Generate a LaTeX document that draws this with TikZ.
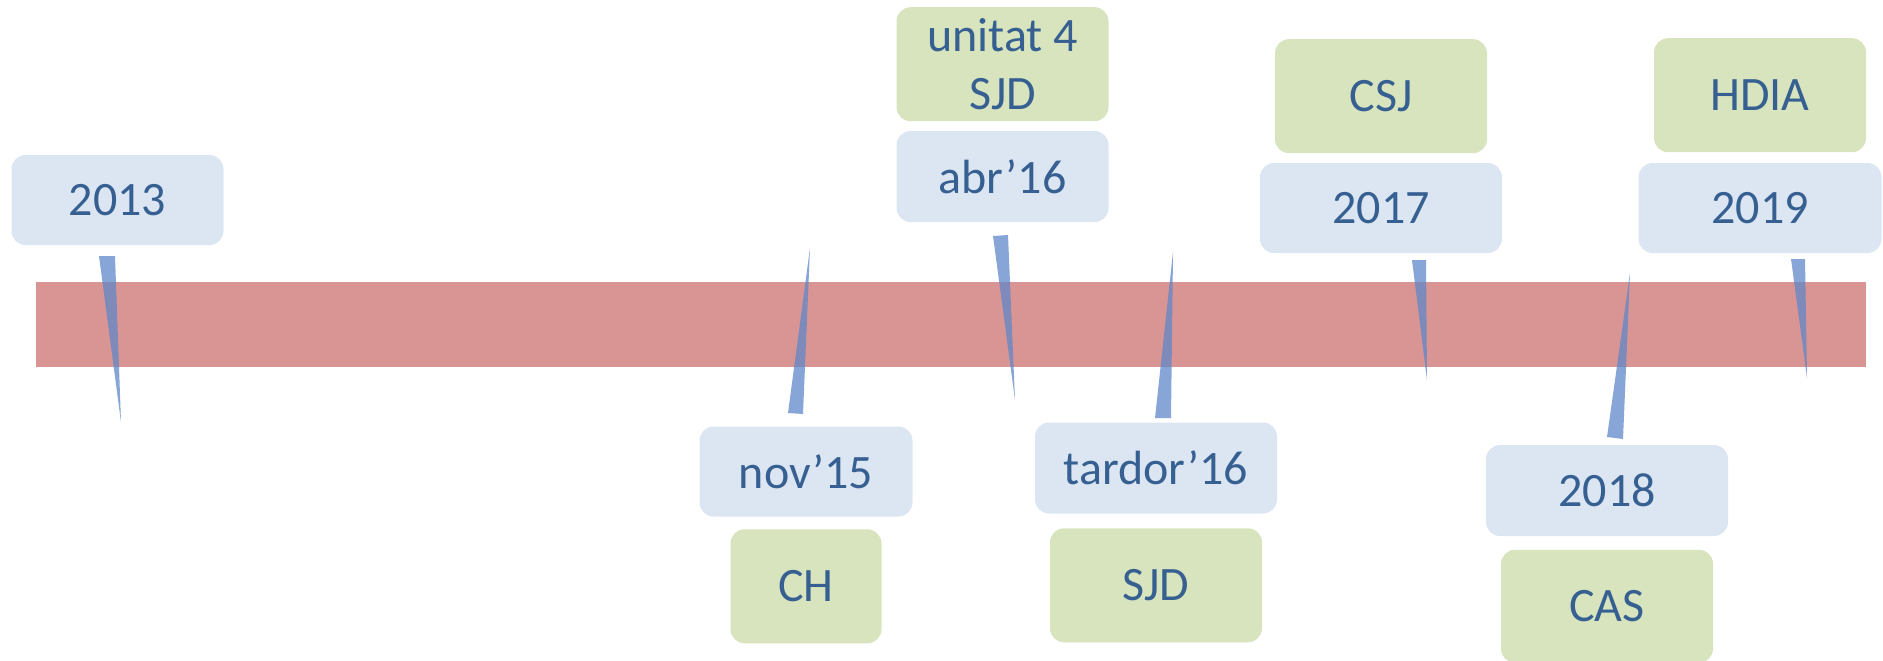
\documentclass[tikz,border=0pt]{standalone}
\usepackage{fontspec}
\setmainfont{Carlito}
\usetikzlibrary{positioning}

\definecolor{barred}{RGB}{217,149,148}
\definecolor{dateblue}{RGB}{220,230,242}
\definecolor{placegreen}{RGB}{216,228,189}
\definecolor{inkblue}{RGB}{55,96,146}
\definecolor{pointerblue}{RGB}{95,135,200}

\begin{document}
\begin{tikzpicture}[x=0.5pt, y=-0.5pt,
	datebox/.style={rectangle, rounded corners=7pt, fill=dateblue, text=inkblue, inner sep=0pt, text centered, minimum height=45pt, minimum width=106pt, font=\fontsize{24}{29}\selectfont},
	placebox/.style={datebox, fill=placegreen, minimum height=57pt},
	pointer/.style={fill=pointerblue, fill opacity=0.75}]
	\useasboundingbox (0,0) rectangle (1883,660);

	% Timeline bar
	\fill [barred] (36,282) rectangle (1866,367);

	% Dates
	\node [datebox] (y2013) at (117.5,200) {2013};
	\node [datebox, minimum height=45.5pt] (abr16) at (1002.5,176.5) {abr’16};
	\node [datebox, minimum width=121pt] (y2017) at (1381,208) {2017};
	\node [datebox, minimum width=121.5pt] (y2019) at (1760,208) {2019};
	\node [datebox, minimum width=106.5pt] (nov15) at (806,471.5) {nov’15};
	\node [datebox, minimum width=121pt, minimum height=45.5pt] (tardor16) at (1156,468) {tardor’16};
	\node [datebox, minimum width=121pt, minimum height=45.5pt] (y2018) at (1607,490.5) {2018};

	% Places
	\node [placebox, above=4.5pt of abr16, align=center] (unitat) {unitat 4\\SJD};
	\node [placebox, above=4.5pt of y2017] (csj) {CSJ};
	\node [placebox, above=5pt of y2019] (hdia) {HDIA};
	\node [placebox, below=6pt of nov15, minimum width=75.5pt] (ch) {CH};
	\node [placebox, below=7pt of tardor16] (sjd) {SJD};
	\node [placebox, below=6.5pt of y2018, minimum height=56.5pt] (cas) {CAS};

	% Pointers
	\fill [pointer] (99,256) -- (115,256) -- (121,422) -- cycle;
	\fill [pointer] (788,413) -- (803,414) -- (810,248) -- cycle;
	\fill [pointer] (993,236) -- (1008,235) -- (1015,400) -- cycle;
	\fill [pointer] (1155,418) -- (1171,418) -- (1173,252) -- cycle;
	\fill [pointer] (1412,260) -- (1426,260) -- (1427,380) -- cycle;
	\fill [pointer] (1607,437) -- (1623,439) -- (1630,273) -- cycle;
	\fill [pointer] (1791,259) -- (1805,259) -- (1807,378) -- cycle;

\end{tikzpicture}
\end{document}
